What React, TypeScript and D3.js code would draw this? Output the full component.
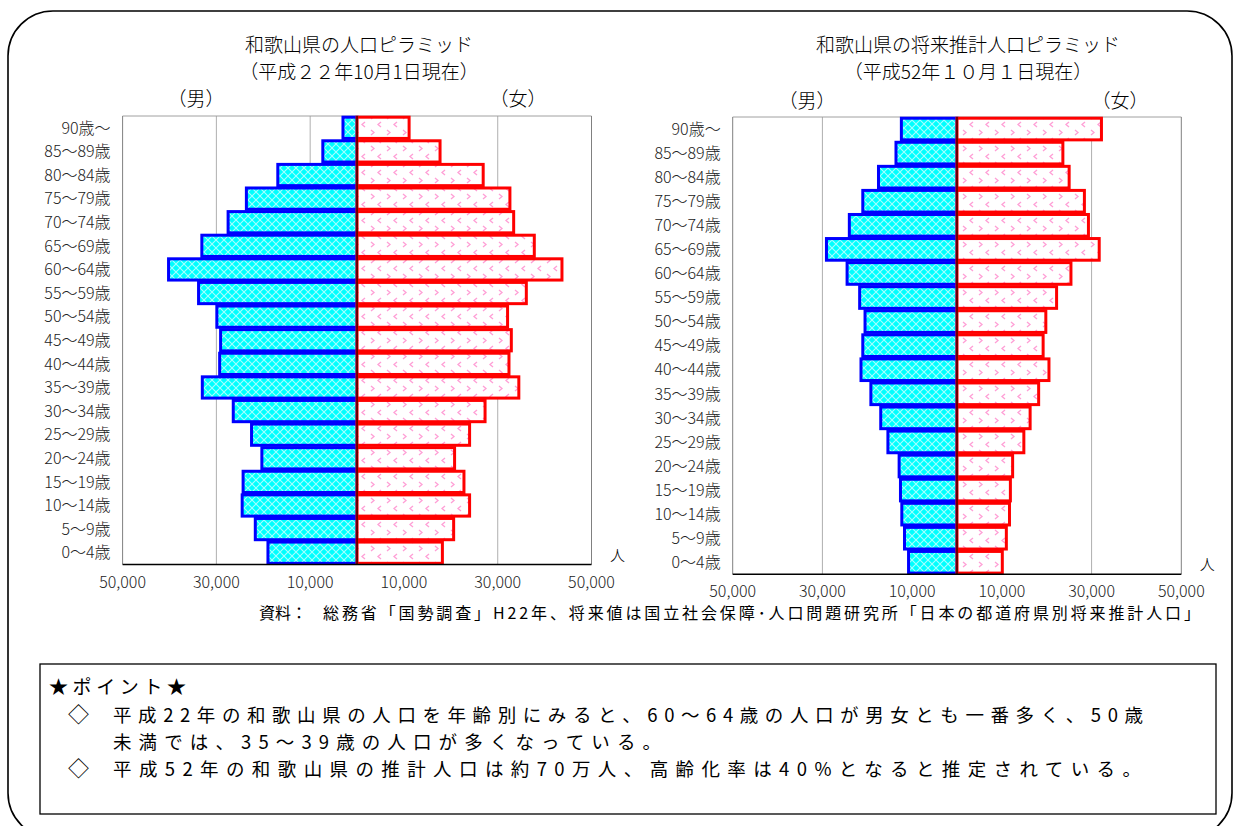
import React from 'react';
import * as d3 from 'd3';

// age groups, bottom to top
const ageGroups = [
  '0～4歳', '5～9歳', '10～14歳', '15～19歳', '20～24歳', '25～29歳', '30～34歳',
  '35～39歳', '40～44歳', '45～49歳', '50～54歳', '55～59歳', '60～64歳', '65～69歳',
  '70～74歳', '75～79歳', '80～84歳', '85～89歳', '90歳～',
];

// 平成22年 (2010)
const male2010 = [19000, 21700, 24500, 24300, 20300, 22500, 26400, 33000, 29300, 29100, 29900, 33800, 40200, 33100, 27500, 23600, 16900, 7300, 3000];
const female2010 = [18200, 20600, 24000, 22800, 20800, 24000, 27300, 34500, 32400, 32900, 32100, 36100, 43700, 37800, 33400, 32600, 26900, 17700, 11100];

// 平成52年 (2040) 推計
const male2040 = [10800, 11700, 12300, 12600, 12900, 15400, 17000, 19200, 21400, 21000, 20500, 21700, 24500, 29100, 24000, 21000, 17500, 13600, 12400];
const female2040 = [10100, 11000, 11700, 11900, 12400, 14900, 16300, 18200, 20500, 19200, 19800, 22200, 25400, 31700, 29300, 28400, 25000, 23600, 32200];

const tickValues = [-50000, -30000, -10000, 10000, 30000, 50000];
const gridValues = [-30000, -10000, 10000, 30000];

const FONT = "'Noto Sans CJK JP', 'Noto Sans', sans-serif";

interface Frame { x0: number; x1: number; y0: number; y1: number; }

interface PyramidProps {
  frame: Frame;
  male: number[];
  female: number[];
  title1: string;
  title2: string;
  titleX: number;
  maleX: number;
  femaleX: number;
  labelY: number;
}

const Pyramid: React.FC<PyramidProps> = ({ frame, male, female, title1, title2, titleX, maleX, femaleX, labelY }) => {
  const x = d3.scaleLinear().domain([-50000, 50000]).range([frame.x0, frame.x1]);
  const y = d3.scaleBand<string>()
    .domain([...ageGroups].reverse())
    .range([frame.y0, frame.y1])
    .paddingInner(0.1)
    .paddingOuter(0.05);
  const fmt = d3.format(',');
  const bw = y.bandwidth();

  return (
    <g fontFamily={FONT}>
      <text x={titleX} y={52} textAnchor="middle" fontSize={19} fontWeight={300}>{title1}</text>
      <text x={titleX} y={79} textAnchor="middle" fontSize={19} fontWeight={300}>{title2}</text>
      <text x={maleX} y={labelY} textAnchor="middle" fontSize={19} fontWeight={300}>（男）</text>
      <text x={femaleX} y={labelY} textAnchor="middle" fontSize={19} fontWeight={300}>（女）</text>

      {/* frame */}
      <line x1={frame.x0} x2={frame.x1} y1={frame.y0} y2={frame.y0} stroke="#a0a0a0" strokeWidth={1} />
      <line x1={frame.x0} x2={frame.x0} y1={frame.y0} y2={frame.y1} stroke="#808080" strokeWidth={1} />
      <line x1={frame.x1} x2={frame.x1} y1={frame.y0} y2={frame.y1} stroke="#808080" strokeWidth={1} />
      {gridValues.map((v) => (
        <line key={v} x1={x(v)} x2={x(v)} y1={frame.y0} y2={frame.y1} stroke="#9a9a9a" strokeWidth={0.8} />
      ))}

      {/* bars */}
      {ageGroups.map((a, i) => (
        <rect key={'m' + a} x={x(-male[i])} y={y(a)} width={x(0) - x(-male[i])} height={bw}
          fill="url(#maleHatch)" stroke="#0000ff" strokeWidth={3} />
      ))}
      {ageGroups.map((a, i) => (
        <rect key={'f' + a} x={x(0)} y={y(a)} width={x(female[i]) - x(0)} height={bw}
          fill="url(#femaleHatch)" stroke="#ff0000" strokeWidth={3} />
      ))}
      <line x1={x(0)} x2={x(0)} y1={frame.y0} y2={frame.y1} stroke="#400000" strokeWidth={1.5} />
      <line x1={frame.x0} x2={frame.x1} y1={frame.y1} y2={frame.y1} stroke="#000" strokeWidth={1.5} />

      {/* category labels */}
      {ageGroups.map((a) => (
        <text key={'l' + a} x={frame.x0 - 12} y={(y(a) ?? 0) + bw / 2} dy="0.36em"
          textAnchor="end" fontSize={16} fontWeight={300} fill="#222">{a}</text>
      ))}

      {/* x ticks */}
      {tickValues.map((v) => (
        <text key={'t' + v} x={x(v)} y={frame.y1 + 23} textAnchor="middle" fontSize={16} fontWeight={300} fill="#222">
          {fmt(Math.abs(v))}
        </text>
      ))}
      <text x={frame.x1 + 26} y={frame.y1 - 4} textAnchor="middle" fontSize={15} fontWeight={300}>人</text>
    </g>
  );
};

export default function App() {
  return (
    <svg width={1238} height={826} style={{ position: 'absolute', left: 0, top: 0, background: '#fff' }}>
      <defs>
        <pattern id="maleHatch" width={8} height={8} patternUnits="userSpaceOnUse">
          <rect width={8} height={8} fill="#00ffff" />
          <path d="M0,0 L8,8 M8,0 L0,8" stroke="#ffffff" strokeWidth={1.1} opacity={0.65} />
        </pattern>
        <pattern id="femaleHatch" width={16} height={16} patternUnits="userSpaceOnUse">
          <rect width={16} height={16} fill="#ffffff" />
          <path d="M3,2 L6,4.5 L3,7" fill="none" stroke="#ff9fd6" strokeWidth={1.3} />
          <path d="M13,10 L10,12.5 L13,15" fill="none" stroke="#ff9fd6" strokeWidth={1.3} />
        </pattern>
      </defs>
      <rect x={0} y={0} width={1238} height={826} fill="#fff" />
      <rect x={8} y={11} width={1224} height={827} rx={45} ry={45} fill="none" stroke="#000" strokeWidth={1.6} />

      <Pyramid frame={{ x0: 122.6, x1: 591.5, y0: 116, y1: 564.5 }} male={male2010} female={female2010}
        title1="和歌山県の人口ピラミッド" title2="（平成２２年10月1日現在）"
        titleX={359} maleX={196} femaleX={518} labelY={106} />
      <Pyramid frame={{ x0: 732.7, x1: 1181.3, y0: 117, y1: 574.3 }} male={male2040} female={female2040}
        title1="和歌山県の将来推計人口ピラミッド" title2="（平成52年１０月１日現在）"
        titleX={968} maleX={807} femaleX={1120} labelY={108} />

      <g fontFamily={FONT} fill="#000">
        <text x={259} y={619} fontSize={16}>資料：</text>
        <text x={323} y={619} fontSize={16} textLength={877} lengthAdjust="spacing">
          総務省「国勢調査」H22年、将来値は国立社会保障･人口問題研究所「日本の都道府県別将来推計人口」
        </text>

        <rect x={40} y={664} width={1176} height={150} fill="none" stroke="#000" strokeWidth={1.3} />
        <text x={49} y={694} fontSize={19} textLength={137} lengthAdjust="spacing">★ポイント★</text>
        <text x={68} y={722} fontSize={21}>◇</text>
        <text x={113} y={722} fontSize={18.5} textLength={1030} lengthAdjust="spacing">
          平成22年の和歌山県の人口を年齢別にみると、60～64歳の人口が男女とも一番多く、50歳
        </text>
        <text x={113} y={749} fontSize={18.5} textLength={548} lengthAdjust="spacing">
          未満では、35～39歳の人口が多くなっている。
        </text>
        <text x={68} y={776} fontSize={21}>◇</text>
        <text x={113} y={776} fontSize={18.5} textLength={1028} lengthAdjust="spacing">
          平成52年の和歌山県の推計人口は約70万人、高齢化率は40%となると推定されている。
        </text>
      </g>
    </svg>
  );
}
